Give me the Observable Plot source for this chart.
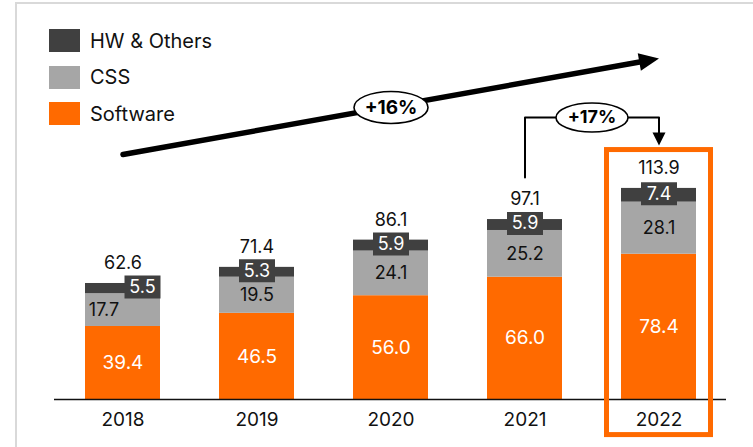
<!DOCTYPE html>
<html><head><meta charset="utf-8">
<script src="https://cdn.jsdelivr.net/npm/d3@7"></script>
<script src="https://cdn.jsdelivr.net/npm/@observablehq/plot@0.6"></script>
<style>
body{margin:0;background:#fff;font-family:Inter,"Open Sans",sans-serif;}
#wrap{position:relative;width:753px;height:447px;overflow:hidden;}
#border{position:absolute;left:15px;top:2px;width:760px;height:460px;border-left:2px solid #d9d9d9;border-top:2px solid #d9d9d9;}
#legend{position:absolute;left:49px;top:29px;z-index:2}
.item{display:flex;align-items:center;height:23px;margin-bottom:13.5px;font-size:20px;color:#111}
.sw{width:31px;height:23px;margin-right:10px}
svg{position:absolute;left:0;top:0}
</style></head><body><div id="wrap"><div id="border"></div></div>
<script>
const years = ["2018","2019","2020","2021","2022"];
const software = [39.4, 46.5, 56.0, 66.0, 78.4];
const css = [17.7, 19.5, 24.1, 25.2, 28.1];
const hw = [5.5, 5.3, 5.9, 5.9, 7.4];
const totals = [62.6, 71.4, 86.1, 97.1, 113.9];
const series = ["Software", "CSS", "HW & Others"];
const colors = ["#ff6a00", "#a6a6a6", "#404040"];
const cagrLabel = "+16%";
const yoyLabel = "+17%";
const highlightYear = "2022";
const offsetYear = "2018"; // year whose small-segment labels sit off-centre

const values = {"Software": software, "CSS": css, "HW & Others": hw};
const rows = [];
years.forEach((year, i) => {
  let acc = 0;
  for (const s of series) {
    const v = values[s][i];
    rows.push({year, series: s, value: v, y1: acc, y2: acc + v, mid: acc + v / 2});
    acc += v;
  }
});
const tops = years.map((year, i) => ({year, total: totals[i], top: rows.filter(r => r.year === year).at(-1).y2}));
const fmt = v => v.toFixed(1);

// custom symbols
const ellipse = (rx, ry) => ({draw(c) {const k = 0.5523;
  c.moveTo(rx, 0); c.bezierCurveTo(rx, k*ry, k*rx, ry, 0, ry); c.bezierCurveTo(-k*rx, ry, -rx, k*ry, -rx, 0);
  c.bezierCurveTo(-rx, -k*ry, -k*rx, -ry, 0, -ry); c.bezierCurveTo(k*rx, -ry, rx, -k*ry, rx, 0); c.closePath();}});
const box = (w, h) => ({draw(c) {c.rect(-w/2, -h/2, w, h);}});
const head = (len, wid) => ({draw(c) {c.moveTo(0, 0); c.lineTo(-len, -wid/2); c.lineTo(-len, wid/2); c.closePath();}});

// annotation anchors (data units)
const bigStart = {x: "2018", y: 132.2};
const bigEnd = {x: "2022", y: 184.0};
const bigLabel = {x: "2020", y: 157.6};
const connector = [{x: "2021", y: 119.8}, {x: "2021", y: 152.2}, {x: "2022", y: 152.2}, {x: "2022", y: 141.5}];
const smallTip = {x: "2022", y: 137.1};

const cssRows = rows.filter(r => r.series === "CSS");
const hwRows = rows.filter(r => r.series === "HW & Others");
const isOff = r => r.year === offsetYear;

const hwMarks = (data, dx) => [
  Plot.dot(data, {x: "year", y: "mid", dx, dy: -1.5, symbol: box(36, 23), fill: "#404040", stroke: "none"}),
  Plot.text(data, {x: "year", y: "mid", dx, dy: -1.5, text: d => fmt(d.value), fill: "#fff", fontSize: 18})
];

const chart = Plot.plot({
  width: 753, height: 447,
  marginLeft: 54, marginRight: 27, marginTop: 0, marginBottom: 48,
  style: {fontFamily: "Inter, sans-serif", fontSize: "19px", color: "#111", background: "transparent"},
  x: {type: "band", domain: years, paddingInner: 0.442, paddingOuter: 0.219, align: 0.5, tickSize: 0, tickPadding: 13, label: null},
  y: {domain: [0, 215.3], axis: null},
  color: {domain: series, range: colors},
  marks: [
    Plot.barY(rows, {x: "year", y1: "y1", y2: "y2", fill: "series"}),
    Plot.ruleY([0], {stroke: "#111", strokeWidth: 1.5}),
    Plot.barY([highlightYear], {x: d => d, y1: -19.2, y2: 134.6, fill: "none", stroke: colors[0], strokeWidth: 5, insetLeft: -14.5, insetRight: -14.5}),
    // big growth arrow
    Plot.arrow([0], {x1: () => bigStart.x, y1: () => bigStart.y, x2: () => bigEnd.x, y2: () => bigEnd.y, stroke: "#000", strokeWidth: 5.5, headLength: 0, insetEnd: 14}),
    Plot.dot([bigEnd], {x: "x", y: "y", symbol: head(20, 18), fill: "#000", stroke: "none", rotate: -10.1}),
    Plot.dot([bigLabel], {x: "x", y: "y", symbol: ellipse(37, 16), fill: "#fff", stroke: "#000", strokeWidth: 1.6}),
    Plot.text([bigLabel], {x: "x", y: "y", text: () => cagrLabel, fontSize: 19, fontWeight: "bold", fill: "#000"}),
    // yoy connector
    Plot.line(connector, {x: "x", y: "y", stroke: "#000", strokeWidth: 2}),
    Plot.dot([smallTip], {x: "x", y: "y", symbol: head(13, 13), fill: "#000", stroke: "none", rotate: 90}),
    Plot.dot([connector[1]], {x: "x", y: "y", dx: 67, symbol: ellipse(36, 14.5), fill: "#fff", stroke: "#000", strokeWidth: 1.6}),
    Plot.text([connector[1]], {x: "x", y: "y", dx: 67, text: () => yoyLabel, fontSize: 18, fontWeight: "bold", fill: "#000"}),
    // segment labels
    Plot.text(rows.filter(r => r.series === "Software"), {x: "year", y: "mid", text: d => fmt(d.value), fill: "#fff", fontSize: 19}),
    Plot.text(cssRows.filter(r => !isOff(r)), {x: "year", y: "mid", text: d => fmt(d.value), fill: "#111", fontSize: 18}),
    Plot.text(cssRows.filter(isOff), {x: "year", y: "mid", dx: -19, text: d => fmt(d.value), fill: "#111", fontSize: 18}),
    ...hwMarks(hwRows.filter(r => !isOff(r)), 0),
    ...hwMarks(hwRows.filter(isOff), 19.5),
    Plot.text(tops, {x: "year", y: "top", text: d => fmt(d.total), fill: "#111", fontSize: 18, dy: -20})
  ]
});

const wrap = document.getElementById("wrap");
wrap.appendChild(chart);

const legend = document.createElement("div");
legend.id = "legend";
[...series].reverse().forEach(s => {
  const it = document.createElement("div"); it.className = "item";
  const sw = document.createElement("div"); sw.className = "sw"; sw.style.background = colors[series.indexOf(s)];
  const tx = document.createElement("span"); tx.textContent = s;
  it.appendChild(sw); it.appendChild(tx); legend.appendChild(it);
});
wrap.appendChild(legend);
</script></body></html>
